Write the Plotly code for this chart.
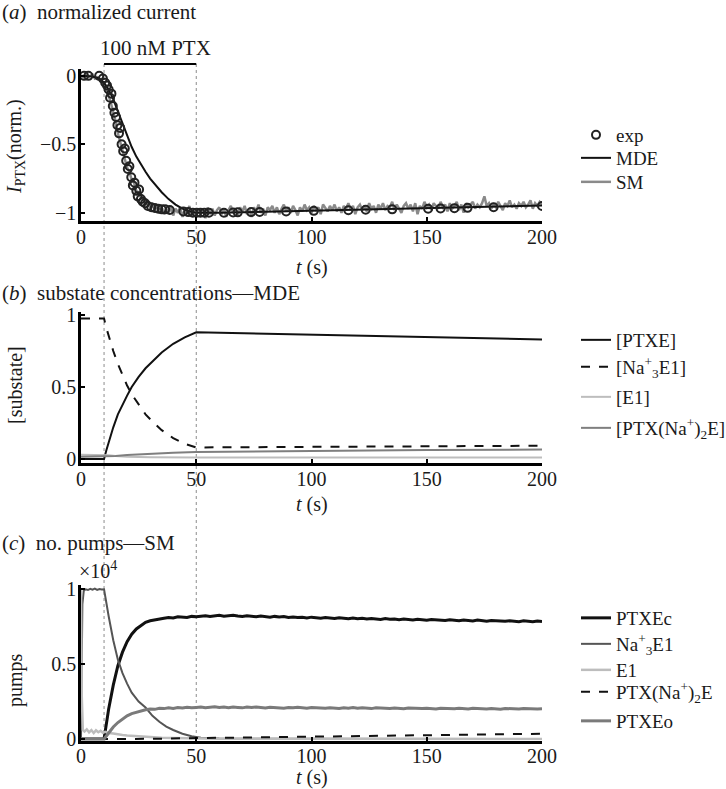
import plotly.graph_objects as go

FONT = "Liberation Serif, Times New Roman, Times, DejaVu Serif, serif"
TXT = "#1a1a1a"

# ---------------- Panel (a): normalized current ----------------
t_exp = [1.3, 3.2, 7.9, 9.5, 10.5, 11.3, 12.0, 12.6, 13.2, 13.8, 14.5, 15.2, 15.8, 16.5, 17.0,
         17.6, 18.3, 19.0, 19.6, 20.3, 21.0, 21.8, 22.5, 23.2, 24.0, 24.6, 25.2, 26.0, 26.8,
         27.8, 29.0, 30.5, 32.0, 33.5, 35.0, 36.5, 38.5, 44.4, 46.5, 48.5, 50.2, 51.8, 53.5,
         55.5, 62, 66, 68, 73.8, 77.5, 89, 101, 116, 123.5, 135, 150.6, 156, 162, 167.7, 179,
         200]
i_exp = [0.0, 0.0, 0.0, -0.02, -0.05, -0.07, -0.10, -0.16, -0.13, -0.22, -0.27, -0.30, -0.36,
         -0.42, -0.38, -0.50, -0.55, -0.53, -0.62, -0.68, -0.66, -0.74, -0.80, -0.78, -0.84,
         -0.88, -0.83, -0.90, -0.92, -0.93, -0.95, -0.96, -0.965, -0.97, -0.975, -0.975, -0.98,
         -0.99, -0.995, -1.0, -1.0, -1.0, -1.0, -1.0, -1.0, -0.998, -0.997, -0.995, -0.994,
         -0.99, -0.986, -0.982, -0.978, -0.975, -0.97, -0.968, -0.966, -0.964, -0.96, -0.95]

t_mde = [0, 5, 8, 10, 12, 14, 16, 18, 20, 22, 24, 26, 28, 30, 32, 35, 38, 41, 44, 47, 50, 60,
         80, 100, 120, 140, 160, 180, 200]
i_mde = [0, -0.005, -0.02, -0.05, -0.1, -0.17, -0.26, -0.35, -0.44, -0.52, -0.59, -0.65, -0.7,
         -0.75, -0.79, -0.85, -0.9, -0.94, -0.97, -0.99, -1.0, -1.0, -0.993, -0.985, -0.977,
         -0.97, -0.962, -0.955, -0.947]

t_sm = list(range(0, 201))
i_sm = [0.00, -0.01, 0.01, -0.01, 0.00, 0.01, -0.02, -0.01,
        -0.02, -0.04, -0.06, -0.09, -0.14, -0.20, -0.27, -0.33, -0.42, -0.48, -0.55, -0.60,
        -0.67, -0.70, -0.76, -0.78, -0.84, -0.85, -0.89, -0.90, -0.93, -0.92, -0.96, -0.94,
        -0.98, -0.95, -0.99, -0.96, -1.01, -0.97, -1.00, -0.96,
        -1.02, -0.97, -1.00, -0.96, -1.03, -0.98, -1.01, -0.95, -1.02, -0.99,
        -1.03, -0.97, -1.00, -0.98, -1.04, -0.96, -1.01, -0.97, -1.02, -0.98,
        -0.96, -1.01, -0.97, -1.03, -0.98, -0.95, -1.00, -0.97, -1.02, -0.96,
        -0.99, -0.95, -1.01, -0.97, -1.03, -0.96, -0.99, -0.94, -1.00, -0.97,
        -1.02, -0.96, -0.98, -0.95, -1.00, -0.96, -1.01, -0.97, -0.94, -0.99,
        -0.96, -1.00, -0.95, -0.98, -1.02, -0.96, -0.99, -0.94, -0.98, -0.96,
        -1.00, -0.95, -0.98, -0.96, -1.01, -0.94, -0.97, -0.99, -0.95, -0.98,
        -0.94, -0.99, -0.96, -1.00, -0.95, -0.97, -0.93, -0.98, -0.95, -1.01,
        -0.96, -0.94, -0.98, -0.95, -0.99, -0.93, -0.97, -0.95, -1.00, -0.94,
        -0.97, -0.93, -0.98, -0.95, -0.96, -0.92, -0.98, -0.94, -0.97, -1.00,
        -0.95, -0.93, -0.97, -0.94, -0.99, -0.93, -1.01, -0.95, -0.97, -0.92,
        -0.96, -0.94, -0.98, -0.93, -0.95, -0.97, -0.92, -0.96, -0.94, -0.99,
        -0.93, -0.97, -0.95, -0.92, -0.98, -0.94, -1.00, -0.93, -0.96, -0.94,
        -0.92, -0.97, -0.94, -0.96, -0.93, -0.88, -0.95, -0.93, -0.97, -0.94,
        -0.96, -0.92, -0.95, -0.98, -0.93, -0.95, -0.91, -0.96, -0.94, -0.97,
        -0.93, -0.95, -0.92, -0.96, -0.94, -0.91, -0.97, -0.93, -0.95, -0.92, -0.94]

# ---------------- Panel (b): substate concentrations (MDE) ----------------
t_ptxe = [0, 10, 11, 12, 13, 14, 16, 18, 20, 22, 25, 28, 31, 35, 40, 45, 50, 75, 100, 125, 150,
          175, 200]
c_ptxe = [0, 0, 0.06, 0.12, 0.17, 0.22, 0.31, 0.38, 0.44, 0.5, 0.57, 0.63, 0.68, 0.74, 0.8,
          0.845, 0.88, 0.872, 0.864, 0.856, 0.848, 0.839, 0.83]
t_na3e1_b = [0, 10, 11, 12, 14, 16, 18, 20, 22, 25, 28, 31, 35, 40, 45, 50, 100, 150, 200]
c_na3e1_b = [0.975, 0.975, 0.91, 0.85, 0.75, 0.66, 0.58, 0.51, 0.45, 0.38, 0.31, 0.26, 0.2,
             0.145, 0.105, 0.08, 0.083, 0.087, 0.092]
t_e1_b = [0, 10, 12, 15, 20, 30, 50, 200]
c_e1_b = [0.03, 0.03, 0.025, 0.02, 0.015, 0.012, 0.01, 0.01]
t_ptxna2e_b = [0, 10, 15, 20, 30, 40, 50, 100, 150, 200]
c_ptxna2e_b = [0.015, 0.015, 0.02, 0.028, 0.038, 0.044, 0.048, 0.056, 0.062, 0.066]

# ---------------- Panel (c): number of pumps (SM), units of 1e4 ----------------
t_c = list(range(0, 201, 2))
n_ptxec = [0, 0, 0, 0, 0,
           0.0, 0.2, 0.36, 0.49, 0.58, 0.65, 0.70, 0.735, 0.76, 0.78,
           0.79, 0.797, 0.803, 0.806, 0.812, 0.809, 0.816, 0.814, 0.812, 0.819,
           0.816, 0.82, 0.823, 0.818, 0.821, 0.826, 0.82, 0.822, 0.827, 0.821,
           0.818, 0.823, 0.82, 0.816, 0.821, 0.817, 0.814, 0.819, 0.815, 0.818,
           0.812, 0.815, 0.811, 0.813, 0.809, 0.814, 0.81, 0.807, 0.811, 0.808,
           0.805, 0.81, 0.806, 0.803, 0.808, 0.804, 0.806, 0.801, 0.805, 0.802,
           0.799, 0.804, 0.8, 0.802, 0.797, 0.801, 0.798, 0.795, 0.8, 0.797,
           0.793, 0.798, 0.795, 0.797, 0.792, 0.796, 0.793, 0.79, 0.795, 0.792,
           0.789, 0.794, 0.79, 0.787, 0.792, 0.789, 0.791, 0.786, 0.79, 0.788,
           0.784, 0.789, 0.786, 0.783, 0.788, 0.785]
n_ptxeo = [0, 0, 0, 0, 0,
           0.0, 0.04, 0.08, 0.11, 0.135, 0.155, 0.17, 0.18, 0.19, 0.195,
           0.2, 0.198, 0.205, 0.203, 0.208, 0.204, 0.21, 0.207, 0.212, 0.208,
           0.211, 0.214, 0.209, 0.212, 0.216, 0.21, 0.213, 0.209, 0.214, 0.211,
           0.208, 0.213, 0.21, 0.214, 0.209, 0.207, 0.212, 0.209, 0.211, 0.206,
           0.21, 0.208, 0.212, 0.207, 0.205, 0.21, 0.208, 0.211, 0.206, 0.209,
           0.207, 0.204, 0.209, 0.206, 0.21, 0.205, 0.208, 0.206, 0.203, 0.208,
           0.206, 0.209, 0.204, 0.207, 0.205, 0.202, 0.207, 0.205, 0.208, 0.203,
           0.206, 0.204, 0.201, 0.206, 0.204, 0.207, 0.202, 0.205, 0.203, 0.2,
           0.205, 0.203, 0.206, 0.201, 0.204, 0.202, 0.199, 0.204, 0.202, 0.205,
           0.2, 0.203, 0.201, 0.204, 0.2, 0.202]
t_na3e1_c = [0, 0.6, 1.2, 2, 3, 4, 5, 6, 7, 8, 9, 10, 12, 14, 16, 18, 20, 22, 25, 28, 31, 34,
             37, 40, 44, 48, 52, 60, 80, 120, 160, 200]
n_na3e1_c = [0, 0.9, 0.99, 1.0, 0.995, 1.003, 0.997, 1.004, 0.996, 1.002, 0.998, 1.0, 0.82,
             0.66, 0.53, 0.44, 0.37, 0.31, 0.25, 0.21, 0.155, 0.115, 0.083, 0.06, 0.035, 0.018,
             0.008, 0.003, 0.001, 0, 0, 0]
t_e1_c = [0, 0.3, 0.8, 1.5, 2.5, 3.5, 4.5, 5.5, 6.5, 7.5, 8.5, 9.5, 10.5, 12, 14, 16, 18, 20,
          23, 26, 30, 35, 40, 45, 50, 60, 200]
n_e1_c = [1.0, 0.3, 0.06, 0.05, 0.065, 0.045, 0.06, 0.04, 0.058, 0.045, 0.055, 0.042, 0.048,
          0.04, 0.036, 0.03, 0.027, 0.024, 0.02, 0.017, 0.013, 0.009, 0.006, 0.004, 0.002,
          0.001, 0]
t_ptxna2e_c = [0, 10, 30, 50, 80, 100, 130, 160, 200]
n_ptxna2e_c = [0, 0, 0.001, 0.006, 0.012, 0.018, 0.024, 0.029, 0.035]

x_ticks = [0, 50, 100, 150, 200]
pulse = [10, 50]  # PTX application window (s)

W, H = 726, 789
def px_x(p):
    return p / W
def px_y(p):
    return 1 - p / H

fig = go.Figure()
legends = {}

def add_line(x, y, name, ax, line, leg_y, leg_id, marker=None):
    kw = dict(x=x, y=y, name=name, legend=leg_id, xaxis="x" + ax, yaxis="y" + ax)
    if marker is not None:
        kw.update(mode="markers", marker=marker)
    else:
        kw.update(mode="lines", line=line)
    fig.add_trace(go.Scatter(**kw))
    legends[leg_id] = leg_y

# panel a
add_line(t_sm, i_sm, "SM", "", dict(color="#8a8a8a", width=2.5), 182, "legend")
add_line(t_mde, i_mde, "MDE", "", dict(color="#111111", width=2), 158, "legend2")
add_line(t_exp, i_exp, "exp", "", None, 135, "legend3",
         marker=dict(symbol="circle-open", size=8, color="#222222",
                     line=dict(width=2, color="#222222")))
# panel b
add_line(t_ptxe, c_ptxe, "[PTXE]", "2", dict(color="#111111", width=2), 340, "legend4")
add_line(t_na3e1_b, c_na3e1_b, "[Na<sup>+</sup><sub>3</sub>E1]", "2",
         dict(color="#111111", width=2, dash="dash"), 367, "legend5")
add_line(t_e1_b, c_e1_b, "[E1]", "2", dict(color="#bdbdbd", width=2), 397, "legend6")
add_line(t_ptxna2e_b, c_ptxna2e_b, "[PTX(Na<sup>+</sup>)<sub>2</sub>E]", "2",
         dict(color="#7f7f7f", width=2), 428, "legend7")
# panel c
add_line(t_c, n_ptxec, "PTXEc", "3", dict(color="#111111", width=3), 618, "legend8")
add_line(t_na3e1_c, n_na3e1_c, "Na<sup>+</sup><sub>3</sub>E1", "3",
         dict(color="#555555", width=2), 644, "legend9")
add_line(t_e1_c, n_e1_c, "E1", "3", dict(color="#bdbdbd", width=2.5), 670, "legend10")
add_line(t_ptxna2e_c, n_ptxna2e_c, "PTX(Na<sup>+</sup>)<sub>2</sub>E", "3",
         dict(color="#111111", width=2, dash="dash"), 692, "legend11")
add_line(t_c, n_ptxeo, "PTXEo", "3", dict(color="#7a7a7a", width=3), 721, "legend12")

xdom = [px_x(81), px_x(542)]
tickfont = dict(family=FONT, size=20, color=TXT)
common_x = dict(domain=xdom, range=[0, 200], tickvals=x_ticks, showline=True, linecolor="black",
                linewidth=2.5, ticks="inside", ticklen=4, tickwidth=1.5, tickcolor="black",
                showgrid=False, zeroline=False, tickfont=tickfont, ticklabelstandoff=-4,
                automargin=False)
common_y = dict(showline=True, linecolor="black", linewidth=2.5, ticks="inside", ticklen=4,
                tickwidth=1.5, tickcolor="black", showgrid=False, zeroline=False,
                tickfont=tickfont, ticklabelstandoff=-2, automargin=False)

leg_font = dict(family=FONT, size=19, color=TXT)
layout_legends = {}
for lid, ly in legends.items():
    layout_legends[lid] = dict(x=px_x(576), y=px_y(ly), xanchor="left", yanchor="middle",
                               font=leg_font, bgcolor="rgba(0,0,0,0)", itemwidth=30,
                               borderwidth=0)

fig.update_layout(
    width=W, height=H, autosize=False,
    margin=dict(l=0, r=0, t=0, b=0, autoexpand=False),
    paper_bgcolor="white", plot_bgcolor="white",
    font=dict(family=FONT, size=19, color=TXT),
    xaxis=dict(anchor="y", **common_x),
    yaxis=dict(anchor="x", domain=[px_y(221), px_y(69)], range=[-1.06, 0.05],
               tickvals=[0, -0.5, -1], ticktext=["0", "\u22120.5", "\u22121"], **common_y),
    xaxis2=dict(anchor="y2", **common_x),
    yaxis2=dict(anchor="x2", domain=[px_y(463), px_y(312)], range=[-0.028, 1.021],
                tickvals=[0, 0.5, 1], ticktext=["0", "0.5", "1"], **common_y),
    xaxis3=dict(anchor="y3", **common_x),
    yaxis3=dict(anchor="x3", domain=[px_y(740.5), px_y(584.8)], range=[-0.01, 1.03],
                tickvals=[0, 0.5, 1], ticktext=["0", "0.5", "1"], **common_y),
    showlegend=True,
    **layout_legends,
)

# PTX application marker: bar and dotted guide lines
fig.add_shape(type="line", xref="x", yref="paper", x0=pulse[0], x1=pulse[1],
              y0=px_y(64), y1=px_y(64), line=dict(color="black", width=2))
for tp in pulse:
    fig.add_shape(type="line", xref="x", yref="paper", x0=tp, x1=tp, y0=px_y(64),
                  y1=px_y(737), line=dict(color="#8c8c8c", width=1, dash="dot"), layer="below")

ann_font = dict(family=FONT, size=21, color=TXT)
annotations = [
    dict(text="(<i>a</i>)\u00a0\u00a0normalized current", x=px_x(0), y=px_y(12)),
    dict(text="(<i>b</i>)\u00a0\u00a0substate concentrations\u2014MDE", x=px_x(0), y=px_y(293)),
    dict(text="(<i>c</i>)\u00a0\u00a0no. pumps\u2014SM", x=px_x(0), y=px_y(543)),
]
for a in annotations:
    fig.add_annotation(xref="paper", yref="paper", xanchor="left", yanchor="middle",
                       showarrow=False, font=ann_font, **a)
fig.add_annotation(text="100 nM PTX", xref="paper", yref="paper", x=px_x(155), y=px_y(48),
                   xanchor="center", yanchor="middle", showarrow=False, font=ann_font)
fig.add_annotation(text="\u00d710<sup>4</sup>", xref="paper", yref="paper", x=px_x(77),
                   y=px_y(570), xanchor="left", yanchor="middle", showarrow=False,
                   font=dict(family=FONT, size=20, color=TXT))
# axis titles
ttl_font = dict(family=FONT, size=20, color=TXT)
for txt, yy in [("<i>I</i><sub>PTX</sub>(norm.)", 147), ("[substate]", 385), ("pumps", 680)]:
    fig.add_annotation(text=txt, xref="paper", yref="paper", x=px_x(15), y=px_y(yy),
                       xanchor="center", yanchor="middle", textangle=-90, showarrow=False,
                       font=ttl_font)
for yy in [268, 505, 777]:
    fig.add_annotation(text="<i>t</i> (s)", xref="paper", yref="paper", x=px_x(311.5),
                       y=px_y(yy), xanchor="center", yanchor="middle", showarrow=False,
                       font=ttl_font)

fig.write_html("out.html", config={"displayModeBar": False},
               post_script="document.body.style.margin='0px';document.body.style.padding='0px';")
